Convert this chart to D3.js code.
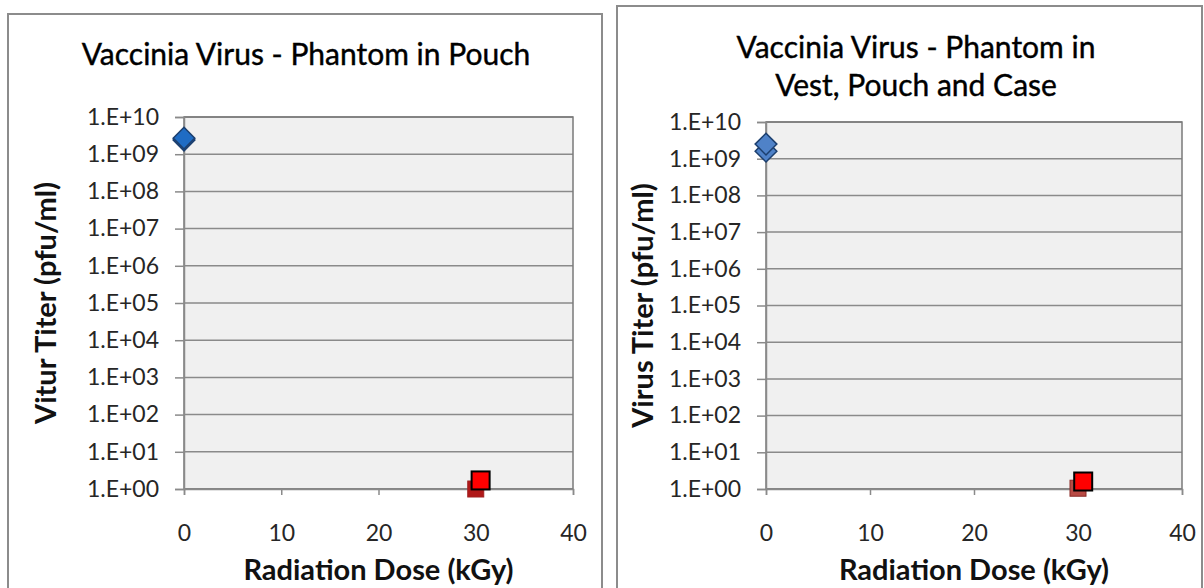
<!DOCTYPE html>
<html>
<head>
<meta charset="utf-8">
<script src="https://cdn.jsdelivr.net/npm/d3@7"></script>
<style>
  body { margin: 0; background: #fff; }
  text { font-family: Lato, "Open Sans", sans-serif; }
</style>
</head>
<body>
<script>

// chart data

const yTicks = [1e0, 1e1, 1e2, 1e3, 1e4, 1e5, 1e6, 1e7, 1e8, 1e9, 1e10];
const xTicks = [0, 10, 20, 30, 40];

// left chart: phantom in pouch
const pouchControl = [{dose: 0, titer: 2.4e9}, {dose: 0, titer: 2.7e9}];
const pouchDark = [{dose: 30, titer: 1.0}];
const pouchIrradiated = [{dose: 30.5, titer: 1.7}];

// right chart: phantom in vest, pouch and case
const caseControl = [{dose: 0, titer: 1.6e9}, {dose: 0, titer: 2.5e9}];
const caseDark = [{dose: 30, titer: 1.05}];
const caseIrradiated = [{dose: 30.5, titer: 1.6}];

const fmt = d => "1.E+" + String(Math.round(Math.log10(d))).padStart(2, "0");

const svg = d3.select("body")
  .append("svg")
    .attr("width", 1204)
    .attr("height", 588);

function drawChart(opt) {

  // panel frame
  svg.append("rect")
      .attr("x", opt.frame[0])
      .attr("y", opt.frame[1])
      .attr("width", opt.frame[2])
      .attr("height", opt.frame[3])
      .attr("fill", "#fff")
      .attr("stroke", "#8c8c8c")
      .attr("stroke-width", 2);

  const xScale = d3.scaleLinear()
      .domain([0, 40])
      .range([opt.left, opt.right]);

  const yScale = d3.scaleLog()
      .domain([1, 1e10])
      .range([opt.bottom, opt.top]);

  const g = svg.append("g");

  // plot background
  g.append("rect")
      .attr("x", opt.left)
      .attr("y", opt.top)
      .attr("width", opt.right - opt.left)
      .attr("height", opt.bottom - opt.top)
      .attr("fill", "#f0f0f0");

  // gridlines
  g.selectAll("line.grid")
      .data(yTicks)
    .enter().append("line")
      .attr("class", "grid")
      .attr("x1", opt.left)
      .attr("x2", opt.right)
      .attr("y1", d => yScale(d))
      .attr("y2", d => yScale(d))
      .attr("stroke", "#8a8a8a")
      .attr("stroke-width", 1.5);

  // plot border
  g.append("rect")
      .attr("x", opt.left)
      .attr("y", opt.top)
      .attr("width", opt.right - opt.left)
      .attr("height", opt.bottom - opt.top)
      .attr("fill", "none")
      .attr("stroke", "#7a7a7a")
      .attr("stroke-width", 1.5);

  // axes
  const yAxis = d3.axisLeft(yScale)
      .tickValues(yTicks)
      .tickFormat(fmt)
      .tickSize(9)
      .tickPadding(16);

  const xAxis = d3.axisBottom(xScale)
      .tickValues(xTicks)
      .tickSize(6)
      .tickPadding(30);

  const ya = g.append("g")
      .attr("transform", `translate(${opt.left},0)`)
      .call(yAxis);

  const xa = g.append("g")
      .attr("transform", `translate(0,${opt.bottom})`)
      .call(xAxis);

  [ya, xa].forEach(a => {
    a.select(".domain").attr("stroke", "#8a8a8a").attr("stroke-width", 1.5);
    a.selectAll(".tick line").attr("stroke", "#8a8a8a").attr("stroke-width", 1.5);
    a.selectAll(".tick text")
        .attr("fill", "#262626")
        .style("font-size", "23px")
        .style("font-family", "Lato, sans-serif");
  });

  // markers
  const diamond = d3.symbol().type(d3.symbolDiamond2).size(opt.diamondSize);

  g.selectAll("path.ctrl")
      .data(opt.control)
    .enter().append("path")
      .attr("class", "ctrl")
      .attr("d", diamond)
      .attr("transform", d => `translate(${xScale(d.dose)},${yScale(d.titer)})`)
      .attr("fill", opt.diamondFill)
      .attr("stroke", "#1c3f6e")
      .attr("stroke-width", 1.5);

  g.selectAll("rect.dark")
      .data(opt.dark)
    .enter().append("rect")
      .attr("class", "dark")
      .attr("x", d => xScale(d.dose) - 8)
      .attr("y", d => yScale(d.titer) - 8)
      .attr("width", 16)
      .attr("height", 16)
      .attr("fill", opt.darkFill)
      .attr("stroke", opt.darkStroke)
      .attr("stroke-width", 1);

  g.selectAll("rect.irr")
      .data(opt.irradiated)
    .enter().append("rect")
      .attr("class", "irr")
      .attr("x", d => xScale(d.dose) - 9)
      .attr("y", d => yScale(d.titer) - 9)
      .attr("width", 18)
      .attr("height", 18)
      .attr("fill", "#ff0000")
      .attr("stroke", "#000")
      .attr("stroke-width", 2);

  // titles
  opt.title.forEach((t, i) => {
    svg.append("text")
        .attr("x", opt.titleX)
        .attr("y", opt.titleY + i * 38)
        .attr("text-anchor", "middle")
        .attr("fill", "#000")
        .attr("stroke", "#000")
        .attr("stroke-width", 0.4)
        .style("font-size", "30px")
        .text(t);
  });

  svg.append("text")
      .attr("x", (opt.left + opt.right) / 2)
      .attr("y", 580)
      .attr("text-anchor", "middle")
      .attr("fill", "#111")
      .style("font-size", "29px")
      .style("font-weight", "bold")
      .text("Radiation Dose (kGy)");

  svg.append("text")
      .attr("transform", `translate(${opt.yTitleX},${(opt.top + opt.bottom) / 2}) rotate(-90)`)
      .attr("text-anchor", "middle")
      .attr("fill", "#111")
      .style("font-size", "29px")
      .style("font-weight", "bold")
      .text(opt.yTitle);
}

drawChart({
  frame: [8, 14, 594, 600],
  left: 184, right: 573, top: 117, bottom: 489,
  control: pouchControl, dark: pouchDark, irradiated: pouchIrradiated,
  diamondFill: "#1f6cc4", diamondSize: 300,
  darkFill: "#b01818", darkStroke: "#a02020",
  title: ["Vaccinia Virus - Phantom in Pouch"], titleX: 306, titleY: 65,
  yTitle: "Vitur Titer (pfu/ml)", yTitleX: 56
});

drawChart({
  frame: [617, 6, 585, 610],
  left: 766, right: 1182, top: 122, bottom: 489,
  control: caseControl, dark: caseDark, irradiated: caseIrradiated,
  diamondFill: "#4f82c8", diamondSize: 300,
  darkFill: "#b84a44", darkStroke: "#8a2a26",
  title: ["Vaccinia Virus - Phantom in", "Vest, Pouch and Case"], titleX: 916, titleY: 58,
  yTitle: "Virus Titer (pfu/ml)", yTitleX: 653
});

</script>
</body>
</html>
